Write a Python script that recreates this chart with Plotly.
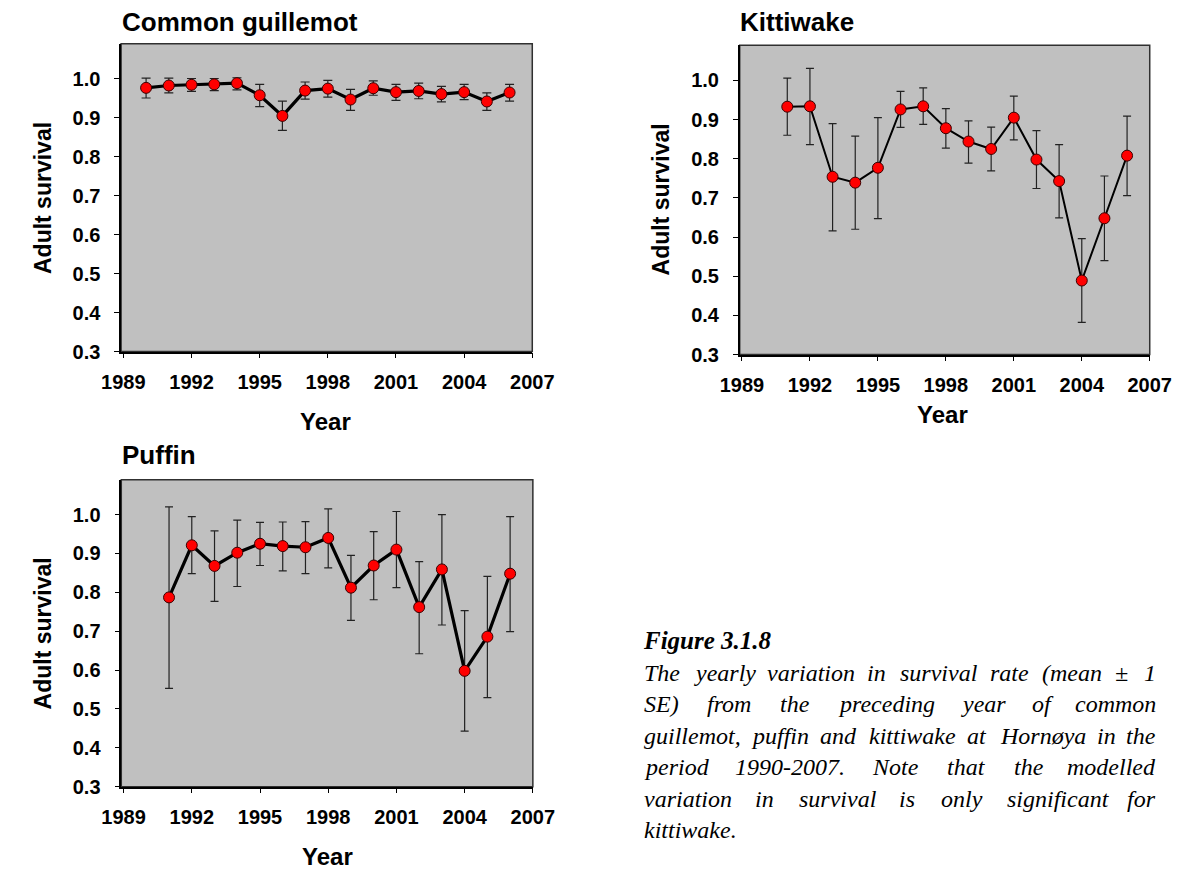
import plotly.graph_objects as go

# ---------------- data ----------------
guil_years = list(range(1990, 2007))
guil_mean = [0.977, 0.983, 0.985, 0.986, 0.989, 0.958, 0.905, 0.970, 0.975, 0.947,
             0.976, 0.966, 0.969, 0.961, 0.966, 0.942, 0.965]
guil_upper = [1.002, 1.002, 1.001, 1.001, 1.003, 0.986, 0.943, 0.992, 0.996, 0.973,
              0.995, 0.986, 0.989, 0.981, 0.986, 0.964, 0.986]
guil_lower = [0.951, 0.964, 0.968, 0.970, 0.972, 0.929, 0.868, 0.948, 0.953, 0.919,
              0.958, 0.945, 0.949, 0.941, 0.947, 0.919, 0.943]

kitt_years = list(range(1991, 2007))
kitt_mean = [0.933, 0.934, 0.754, 0.739, 0.777, 0.926, 0.934, 0.878, 0.844, 0.825,
             0.905, 0.798, 0.743, 0.489, 0.648, 0.808]
kitt_upper = [1.006, 1.031, 0.890, 0.858, 0.905, 0.972, 0.981, 0.928, 0.897, 0.881,
              0.960, 0.872, 0.836, 0.596, 0.756, 0.909]
kitt_lower = [0.860, 0.836, 0.616, 0.620, 0.647, 0.880, 0.888, 0.827, 0.789, 0.769,
              0.848, 0.724, 0.649, 0.382, 0.540, 0.706]

puff_years = list(range(1991, 2007))
puff_mean = [0.787, 0.921, 0.868, 0.902, 0.925, 0.919, 0.916, 0.940, 0.812, 0.869,
             0.910, 0.762, 0.859, 0.598, 0.686, 0.848]
puff_upper = [1.020, 0.995, 0.958, 0.986, 0.980, 0.981, 0.982, 1.015, 0.895, 0.956,
              1.008, 0.879, 1.000, 0.753, 0.841, 0.995]
puff_lower = [0.553, 0.848, 0.777, 0.815, 0.869, 0.855, 0.848, 0.863, 0.728, 0.781,
              0.812, 0.642, 0.716, 0.443, 0.529, 0.699]

panel_titles = ["Common guillemot", "Kittiwake", "Puffin"]
x_tickvals = [1989, 1992, 1995, 1998, 2001, 2004, 2007]
y_tickvals = [0.3, 0.4, 0.5, 0.6, 0.7, 0.8, 0.9, 1.0]
y_title = "Adult survival"
x_title = "Year"

caption_title = "Figure 3.1.8"
caption_lines = [
    "The yearly variation in survival rate (mean ± 1",
    "SE) from the preceding year of common",
    "guillemot, puffin and kittiwake at Hornøya in the",
    "period 1990-2007. Note that the modelled",
    "variation in survival is only significant for",
    "kittiwake.",
]

# ---------------- layout helpers ----------------
# page has an 8 px body margin; positions below are page pixels
OFF = 8
FW, FH = 1200 - OFF, 873 - OFF
def px(x):
    return (x - OFF) / FW
def py(y):
    return 1 - (y - OFF) / FH

FONT = "Liberation Sans, Arial, sans-serif"
SERIF = "Liberation Serif, Times New Roman, serif"

fig = go.Figure()

series = [
    (guil_years, guil_mean, guil_upper, guil_lower, "x", "y", 3.2, 4.5),
    (kitt_years, kitt_mean, kitt_upper, kitt_lower, "x2", "y2", 2.0, 4),
    (puff_years, puff_mean, puff_upper, puff_lower, "x3", "y3", 3.2, 4),
]
for yrs, m, up, lo, xa, ya, lw, cw in series:
    plus = [u - v for u, v in zip(up, m)]
    minus = [v - l for v, l in zip(m, lo)]
    fig.add_trace(go.Scatter(
        x=yrs, y=m, xaxis=xa, yaxis=ya, mode="lines+markers",
        line=dict(color="black", width=lw),
        marker=dict(color="#FF0000", size=11, line=dict(color="#3a0000", width=1)),
        error_y=dict(type="data", symmetric=False, array=plus, arrayminus=minus,
                     color="#222222", thickness=1.2, width=cw),
        showlegend=False, hoverinfo="x+y",
    ))

# panel geometry in page pixels: (left, right, top, bottom)
panels = [
    (104.5, 530.7, 44.3, 356.0),
    (745.7, 1170.7, 45.7, 359.0),
    (104.7, 531.3, 485.7, 796.7),
]
suffix = ["", "2", "3"]
for (l, r, t, b), s in zip(panels, suffix):
    fig.layout["xaxis" + s] = dict(
        domain=[px(l), px(r)], anchor="y" + s, range=[1988.9, 2007],
        tickvals=x_tickvals, ticks="outside", ticklen=5, tickwidth=1.2, tickcolor="black",
        showline=True, linecolor="black", linewidth=1.5, showgrid=False, zeroline=False,
        tickfont=dict(family=FONT, size=20, color="black", weight="bold"),
        ticklabelstandoff=7,
    )
    fig.layout["yaxis" + s] = dict(
        domain=[py(b), py(t)], anchor="x" + s, range=[0.3, 1.09],
        tickvals=y_tickvals, tickformat=".1f", ticks="outside", ticklen=5, tickwidth=1.2,
        tickcolor="black", showline=True, linecolor="black", linewidth=1.5,
        showgrid=False, zeroline=False,
        tickfont=dict(family=FONT, size=20, color="black", weight="bold"),
        ticklabelstandoff=10,
    )
    fig.add_shape(type="rect", xref="paper", yref="paper",
                  x0=px(l), x1=px(r), y0=py(b), y1=py(t),
                  fillcolor="#C0C0C0", line=dict(color="#303030", width=1.5), layer="below")

# panel titles
title_pos = [(103, 22), (744, 22), (103, 461)]
for txt, (x, y) in zip(panel_titles, title_pos):
    fig.add_annotation(text=txt, x=px(x), y=py(y), xref="paper", yref="paper",
                       xanchor="left", yanchor="middle", showarrow=False,
                       font=dict(family=FONT, size=26, color="black", weight="bold"))

# axis titles
ytitle_pos = [(23, 200), (664, 202), (23, 641)]
for x, y in ytitle_pos:
    fig.add_annotation(text=y_title, x=px(x), y=py(y), xref="paper", yref="paper",
                       xanchor="center", yanchor="middle", textangle=-90, showarrow=False,
                       font=dict(family=FONT, size=23, color="black", weight="bold"))
xtitle_pos = [(316, 427), (956, 420), (318, 867)]
for x, y in xtitle_pos:
    fig.add_annotation(text=x_title, x=px(x), y=py(y), xref="paper", yref="paper",
                       xanchor="center", yanchor="middle", showarrow=False,
                       font=dict(family=FONT, size=24, color="black", weight="bold"))

# ---------------- caption (justified by word placement) ----------------
CAP_L, CAP_R = 645, 1178
CAP_SIZE = 24
cap_title_y = 649
cap_line_y = [682, 713, 745, 777, 809, 841]
# approximate advance widths (1/1000 em) of a Times-style italic face
W_IT = {
    " ": 250, "a": 500, "b": 500, "c": 444, "d": 500, "e": 444, "f": 278, "g": 500,
    "h": 500, "i": 278, "j": 278, "k": 444, "l": 278, "m": 722, "n": 500, "o": 500,
    "p": 500, "q": 500, "r": 389, "s": 389, "t": 278, "u": 500, "v": 444, "w": 667,
    "x": 444, "y": 444, "z": 389, "T": 556, "S": 500, "E": 611, "H": 722, "N": 667,
    "(": 333, ")": 333, ",": 250, ".": 250, "-": 333, "±": 675, "ø": 500,
    "0": 500, "1": 500, "2": 500, "7": 500, "9": 500,
}
def word_w(wd):
    return sum(W_IT.get(c, 500) for c in wd) / 1000 * CAP_SIZE

fig.add_annotation(text="<b><i>" + caption_title + "</i></b>", x=px(CAP_L - 1),
                   y=py(cap_title_y), xref="paper", yref="paper", xanchor="left",
                   yanchor="middle", showarrow=False, borderpad=0,
                   font=dict(family=SERIF, size=25, color="black"))
for k, (line, y) in enumerate(zip(caption_lines, cap_line_y)):
    words = line.split(" ")
    last = k == len(caption_lines) - 1
    if last or len(words) == 1:
        fig.add_annotation(text="<i>" + line + "</i>", x=px(CAP_L), y=py(y), xref="paper",
                           yref="paper", xanchor="left", yanchor="middle", showarrow=False,
                           borderpad=0,
                           font=dict(family=SERIF, size=CAP_SIZE, color="black"))
        continue
    widths = [word_w(w) for w in words]
    gap = (CAP_R - CAP_L - sum(widths)) / (len(words) - 1)
    xpos = CAP_L
    for i, (w, wd) in enumerate(zip(words, widths)):
        if i == len(words) - 1:
            x, anchor = CAP_R, "right"
        else:
            x, anchor = xpos, "left"
        fig.add_annotation(text="<i>" + w + "</i>", x=px(x), y=py(y), xref="paper",
                           yref="paper", xanchor=anchor, yanchor="middle", showarrow=False,
                           borderpad=0,
                           font=dict(family=SERIF, size=CAP_SIZE, color="black"))
        xpos += wd + gap

fig.update_layout(
    width=FW, height=FH, margin=dict(l=0, r=0, t=0, b=0),
    paper_bgcolor="white", plot_bgcolor="rgba(0,0,0,0)",
)
fig.write_html("out.html")
